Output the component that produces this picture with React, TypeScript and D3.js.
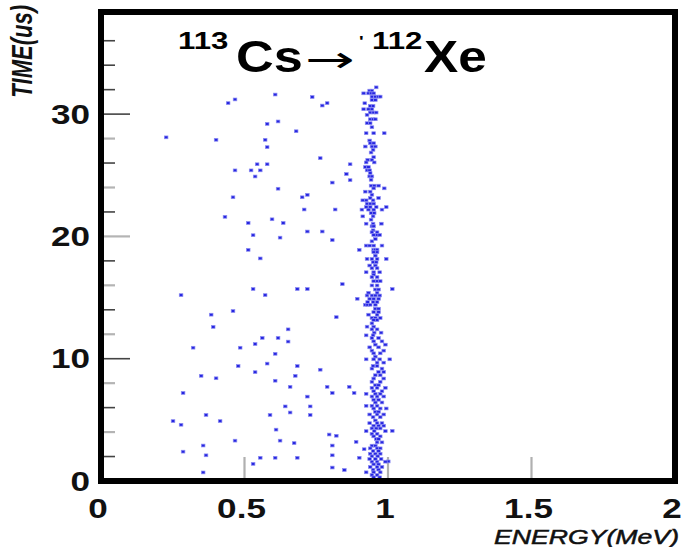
import React from 'react'
import { scaleLinear, range } from 'd3'

// scattered events: [energy (MeV), time (us)]
const scatterEvents: [number, number][] = [
  [0.607, 31.6], [0.736, 31.4], [0.467, 31.2], [0.443, 30.9], [0.788, 30.9], [0.771, 30.7],
  [0.617, 29.4], [0.579, 29.2], [0.680, 28.6], [0.227, 28.1], [0.401, 27.9], [0.572, 27.9],
  [0.579, 27.3], [0.764, 26.4], [0.544, 25.9], [0.579, 25.9], [0.467, 25.4], [0.523, 25.4],
  [0.555, 25.4], [0.537, 24.9], [0.806, 24.4], [0.617, 23.9], [0.460, 23.2], [0.701, 23.2],
  [0.719, 23.4], [0.708, 22.2], [0.816, 22.2], [0.432, 21.6], [0.513, 21.1], [0.596, 21.4],
  [0.635, 21.1], [0.719, 20.4], [0.771, 20.4], [0.530, 20.1], [0.624, 19.9], [0.806, 19.7],
  [0.513, 18.9], [0.555, 18.2],
  [0.530, 15.7], [0.684, 15.7], [0.719, 15.7], [0.279, 15.2], [0.572, 15.2], [0.460, 13.9],
  [0.384, 13.6], [0.820, 13.4], [0.391, 12.6], [0.652, 12.4], [0.562, 11.7], [0.617, 11.7],
  [0.652, 11.4], [0.537, 11.2], [0.321, 10.9], [0.485, 10.9], [0.607, 10.4], [0.579, 9.6],
  [0.478, 9.4], [0.684, 9.4], [0.764, 9.1], [0.537, 8.9], [0.677, 8.6], [0.349, 8.6],
  [0.401, 8.4], [0.607, 8.2], [0.659, 7.7], [0.788, 7.7], [0.286, 7.2], [0.806, 7.2],
  [0.719, 6.9], [0.642, 6.1], [0.729, 6.1], [0.659, 5.6], [0.366, 5.4], [0.589, 5.4],
  [0.729, 5.4], [0.251, 4.9], [0.279, 4.6], [0.415, 4.9], [0.610, 4.2], [0.795, 3.8],
  [0.820, 3.7], [0.467, 3.3], [0.624, 3.3], [0.673, 3.1], [0.356, 2.9], [0.806, 2.9],
  [0.286, 2.4], [0.366, 2.1], [0.806, 2.1], [0.555, 1.9], [0.607, 1.9], [0.684, 1.9],
  [0.530, 1.4], [0.806, 1.1], [0.356, 0.7],
  [0.868, 25.9], [0.855, 25.1], [0.868, 24.6], [0.900, 18.9], [0.841, 16.1], [0.893, 14.9],
  [1.015, 15.7], [0.865, 7.7], [0.882, 7.2], [1.015, 4.1], [0.889, 3.2], [0.917, 2.6],
  [0.900, 1.9], [0.848, 0.9], [1.001, 1.6],
]

// the ~0.95 MeV line, row by row: [time (us), energies (MeV)]
const bandRows: [number, number[]][] = [
  [32.19, [0.959]], [31.92, [0.936, 0.944]], [31.70, [0.915, 0.932, 0.941, 0.950]],
  [31.43, [0.944, 0.956, 0.967, 0.973]], [31.16, [0.944, 0.956]], [30.89, [0.919]],
  [30.67, [0.938, 0.948]], [30.40, [0.915, 0.932, 0.944]], [30.13, [0.938, 0.950, 0.959]],
  [29.94, [0.927]], [29.58, [0.938, 0.948, 0.956]], [29.26, [0.927, 0.938]], [28.93, [0.944]],
  [28.44, [0.924, 0.950, 0.987]], [27.84, [0.936]], [27.62, [0.938, 0.950]],
  [27.35, [0.921, 0.944, 0.956]], [27.08, [0.948]], [26.86, [0.941]], [26.48, [0.950]],
  [26.26, [0.929, 0.944]], [26.05, [0.924, 0.952]], [25.67, [0.921, 0.932]],
  [25.40, [0.927, 0.936]], [25.18, [0.938]], [24.91, [0.936, 0.944]], [24.63, [0.941]],
  [24.15, [0.941, 0.952, 0.967]], [23.93, [0.950, 0.987]], [23.66, [0.921, 0.938]],
  [23.41, [0.944]], [23.14, [0.938, 0.967]], [22.95, [0.912, 0.924, 0.948]],
  [22.68, [0.927, 0.938, 0.950]], [22.40, [0.924, 0.938, 0.959, 0.994]],
  [22.19, [0.909, 0.932, 0.950, 0.979]], [21.91, [0.941, 0.952]], [21.64, [0.912, 0.948]],
  [21.37, [0.941]], [21.04, [0.924, 0.948, 0.977]], [20.83, [0.944, 0.950]], [20.50, [0.948]],
  [20.34, [0.944, 0.962]], [20.12, [0.950, 0.962, 0.971]], [19.79, [0.956]], [19.60, [0.944]],
  [19.25, [0.924, 0.936, 0.950, 0.979]], [18.92, [0.950, 0.956, 0.962]], [18.71, [0.950, 0.962]],
  [18.43, [0.956]], [18.16, [0.927, 0.944, 0.962, 0.994]], [17.89, [0.948, 0.959]],
  [17.62, [0.936, 0.956]], [17.40, [0.944, 0.962]], [17.07, [0.924, 0.950, 0.971]],
  [16.88, [0.950]], [16.67, [0.944, 0.962]],
  [16.34, [0.950, 0.962, 0.973]], [15.99, [0.944, 0.962]], [15.66, [0.956, 0.967]],
  [15.39, [0.932, 0.962]], [15.17, [0.927, 0.944, 0.956, 0.971]], [14.90, [0.936, 0.950, 0.967]],
  [14.63, [0.929, 0.948, 0.962]], [14.41, [0.921, 0.929, 0.938, 0.956]], [14.09, [0.956, 0.967]],
  [13.81, [0.950, 0.967]], [13.60, [0.932, 0.962]], [13.33, [0.944, 0.956, 0.973]],
  [13.16, [0.950, 0.962]], [12.89, [0.944]], [12.62, [0.927, 0.950]], [12.40, [0.944, 0.962]],
  [12.13, [0.952, 0.976]], [11.91, [0.924, 0.948]], [11.69, [0.944, 0.967]],
  [11.42, [0.950, 0.979]], [11.15, [0.956, 0.991]], [10.93, [0.936, 0.967]],
  [10.66, [0.944, 0.985]], [10.44, [0.950, 0.973]], [10.17, [0.956]],
  [9.95, [0.924, 0.950, 0.971, 1.006]], [9.68, [0.962, 0.985]], [9.41, [0.948, 0.962]],
  [9.19, [0.944, 0.979]], [8.92, [0.967, 0.985]], [8.65, [0.956, 0.973]], [8.38, [0.950, 0.985]],
  [8.11, [0.944, 0.973]], [7.83, [0.956, 0.967]], [7.62, [0.944, 0.962, 0.991]],
  [7.34, [0.950, 0.979]], [7.13, [0.924, 0.956, 0.973]], [6.91, [0.944, 0.962, 0.985]],
  [6.64, [0.950, 0.967]], [6.42, [0.956, 0.979]], [6.15, [0.924, 0.944, 0.962]],
  [5.93, [0.950, 0.973, 0.994]], [5.66, [0.956, 0.967]], [5.44, [0.936, 0.962, 0.985]],
  [5.22, [0.948, 0.973]], [4.95, [0.956]], [4.73, [0.936, 0.962, 0.979]],
  [4.52, [0.950, 0.967, 0.985]], [4.30, [0.944, 0.959, 0.973]], [4.08, [0.924, 0.952, 0.991]],
  [3.86, [0.944, 0.962]], [3.65, [0.950, 0.973]], [3.43, [0.959, 0.967]], [3.16, [0.962, 0.979]],
  [2.89, [0.944, 0.956]], [2.67, [0.938, 0.962, 0.973]], [2.45, [0.948, 0.967]],
  [2.23, [0.938, 0.956, 0.973]], [2.02, [0.944, 0.964]], [1.80, [0.936, 0.956, 0.976]],
  [1.58, [0.944, 0.962, 0.991]], [1.36, [0.950, 0.967]], [1.15, [0.938, 0.962, 0.979]],
  [0.93, [0.948, 0.967]], [0.71, [0.924, 0.950, 0.973]], [0.49, [0.944, 0.962]],
  [0.30, [0.950, 0.971]],
]

const xTickLabels = ['0', '0.5', '1', '1.5', '2']
const xTickValues = [0, 0.5, 1, 1.5, 2]
const xInnerTicks = [0.5, 1, 1.5]
const yTickLabels = ['0', '10', '20', '30']
const yTickValues = [0, 10, 20, 30]

const W = 684
const H = 547
const font = '"Liberation Sans", Arial, Helvetica, sans-serif'
const stretch = 1.3 // the original picture is widened horizontally

const App = () => {
  const x = scaleLinear().domain([0, 2]).range([101, 675])
  const y = scaleLinear().domain([0, 38.35]).range([481, 12])

  const events: [number, number][] = scatterEvents.concat(
    bandRows.flatMap(([t, es]) => es.map(e => [e, t] as [number, number]))
  )

  const minorTicks = range(2, 38, 2)

  return (
    <svg width={W} height={H} style={{ display: 'block', position: 'absolute', left: 0, top: 0 }}>
      <rect width={W} height={H} fill="#fff" />

      {/* y ticks */}
      {minorTicks.map(v => {
        const major = v % 10 === 0
        const light = v % 4 === 0 && v < 30
        return (
          <line key={'yt' + v}
            x1={103} x2={major ? 130 : 115}
            y1={y(v)} y2={y(v)}
            stroke={light ? '#b4b4b4' : '#444'}
            strokeWidth={light ? 2.2 : 1.6} />
        )
      })}

      {/* x ticks */}
      {xInnerTicks.map(v => (
        <line key={'xt' + v} x1={x(v)} x2={x(v)} y1={478} y2={457}
          stroke="#b0b0b0" strokeWidth={2.2} />
      ))}

      {/* events */}
      {events.map(([e, t], i) => (
        <rect key={i} x={x(e) - 1.8} y={y(t) - 1.4} width={3.6} height={2.8}
          fill="#2626e0" stroke="#8c8cf2" strokeWidth={0.7} />
      ))}

      {/* frame */}
      <rect x={101} y={12} width={574} height={469} fill="none" stroke="#000" strokeWidth={6} />

      {/* y labels */}
      {yTickValues.map((v, i) => (
        <text key={'yl' + v} transform={`translate(90,${y(v) + 9.5}) scale(${stretch},1)`}
          textAnchor="end" fontFamily={font} fontWeight="bold" fontSize={27} fill="#111">
          {yTickLabels[i]}
        </text>
      ))}

      {/* x labels */}
      {xTickValues.map((v, i) => (
        <text key={'xl' + v} transform={`translate(${x(v) - 3},518) scale(${stretch},1)`}
          textAnchor="middle" fontFamily={font} fontWeight="bold" fontSize={27} fill="#111">
          {xTickLabels[i]}
        </text>
      ))}

      {/* axis titles */}
      <text transform={`translate(679,544) scale(${stretch},1)`} textAnchor="end"
        fontFamily={font} fontStyle="italic" fontSize={20.5} fill="#111"
        stroke="#111" strokeWidth={0.5}>
        ENERGY(MeV)
      </text>
      <text transform={`translate(32,5) scale(${stretch},1) rotate(-90)`} textAnchor="end"
        fontFamily={font} fontStyle="italic" fontWeight="bold" fontSize={22} fill="#111">
        TIME(us)
      </text>

      {/* title */}
      <g fontFamily={font} fill="#000">
        <text transform={`translate(178,49) scale(1.3,1)`} fontWeight="bold" fontSize={24}>113</text>
        <text transform={`translate(236,72) scale(1.16,1)`} fontWeight="bold" fontSize={45}>Cs</text>
        <text transform={`translate(305,72) scale(1.65,1)`} fontFamily='"DejaVu Sans", sans-serif' fontSize={36}>→</text>
        <text transform={`translate(359,46) scale(1.3,1)`} fontWeight="bold" fontSize={15}>'</text>
        <text transform={`translate(372,49) scale(1.3,1)`} fontWeight="bold" fontSize={24}>112</text>
        <text transform={`translate(424,72) scale(1.14,1)`} fontWeight="bold" fontSize={45}>Xe</text>
      </g>
    </svg>
  )
}

export default App
